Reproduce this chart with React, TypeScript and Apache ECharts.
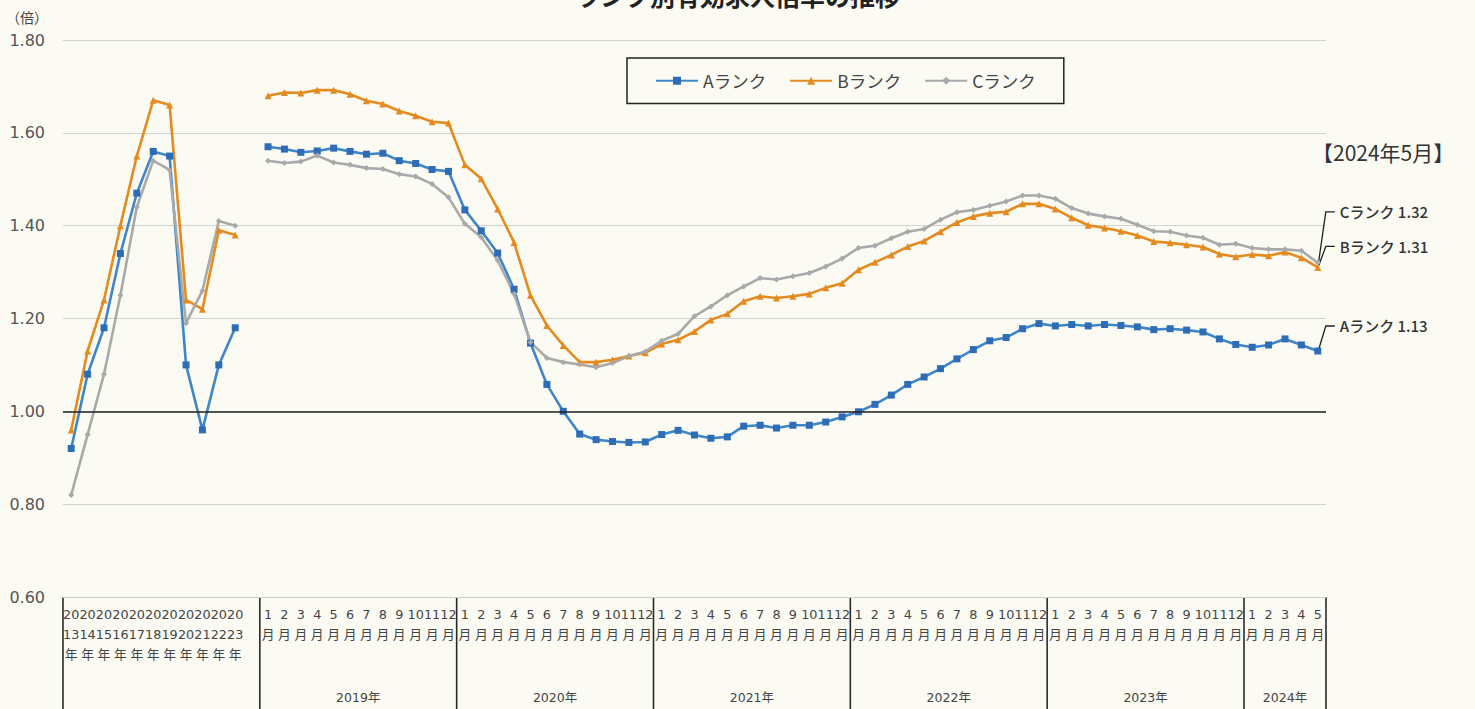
import React, { useEffect, useRef } from "react";
import * as echarts from "echarts";

// ---------- data ----------
const annualYears = ["2013", "2014", "2015", "2016", "2017", "2018", "2019", "2020", "2021", "2022", "2023"];
const yearGroups = ["2019年", "2020年", "2021年", "2022年", "2023年", "2024年"];
const monthsPerGroup = [12, 12, 12, 12, 12, 5];

const aAnnual = [0.92, 1.08, 1.18, 1.34, 1.47, 1.56, 1.55, 1.10, 0.96, 1.10, 1.18];
const bAnnual = [0.96, 1.13, 1.24, 1.40, 1.55, 1.67, 1.66, 1.24, 1.22, 1.39, 1.38];
const cAnnual = [0.82, 0.95, 1.08, 1.25, 1.44, 1.54, 1.52, 1.19, 1.26, 1.41, 1.40];

const aMonthly = [
  1.570, 1.565, 1.558, 1.561, 1.567, 1.560, 1.554, 1.556, 1.540, 1.534, 1.521, 1.517,
  1.434, 1.389, 1.341, 1.263, 1.147, 1.058, 1.000, 0.951, 0.939, 0.935, 0.933, 0.934,
  0.950, 0.959, 0.949, 0.942, 0.945, 0.968, 0.970, 0.964, 0.970, 0.970, 0.977, 0.988,
  0.999, 1.015, 1.035, 1.058, 1.074, 1.092, 1.113, 1.133, 1.152, 1.159, 1.178, 1.189,
  1.184, 1.187, 1.184, 1.187, 1.185, 1.182, 1.176, 1.178, 1.175, 1.171, 1.156, 1.144,
  1.138, 1.143, 1.156, 1.143, 1.13,
];
const bMonthly = [
  1.680, 1.687, 1.686, 1.692, 1.692, 1.683, 1.669, 1.662, 1.647, 1.637, 1.624, 1.621,
  1.531, 1.501, 1.436, 1.364, 1.250, 1.185, 1.142, 1.106, 1.106, 1.111, 1.119, 1.126,
  1.145, 1.154, 1.172, 1.197, 1.210, 1.237, 1.248, 1.244, 1.248, 1.253, 1.266, 1.276,
  1.305, 1.321, 1.337, 1.355, 1.367, 1.387, 1.407, 1.420, 1.427, 1.430, 1.447, 1.447,
  1.436, 1.417, 1.401, 1.395, 1.388, 1.379, 1.366, 1.363, 1.359, 1.354, 1.339, 1.333,
  1.338, 1.335, 1.343, 1.331, 1.31,
];
const cMonthly = [
  1.540, 1.535, 1.538, 1.551, 1.536, 1.531, 1.524, 1.522, 1.511, 1.506, 1.490, 1.461,
  1.404, 1.375, 1.325, 1.253, 1.149, 1.115, 1.106, 1.101, 1.095, 1.104, 1.119, 1.129,
  1.152, 1.167, 1.205, 1.226, 1.250, 1.269, 1.287, 1.284, 1.291, 1.298, 1.312, 1.329,
  1.352, 1.357, 1.373, 1.387, 1.393, 1.413, 1.429, 1.434, 1.443, 1.452, 1.465, 1.465,
  1.458, 1.438, 1.426, 1.420, 1.415, 1.402, 1.388, 1.387, 1.379, 1.374, 1.359, 1.361,
  1.352, 1.349, 1.349, 1.346, 1.32,
];

const endLabels = ["Aランク 1.13", "Bランク 1.31", "Cランク 1.32"];
const yTicks = [0.6, 0.8, 1.0, 1.2, 1.4, 1.6, 1.8];

// ---------- categories ----------
const categories: string[] = [];
annualYears.forEach((y) => categories.push(y + "年"));
categories.push("");
yearGroups.forEach((g, gi) => {
  for (let m = 1; m <= monthsPerGroup[gi]; m++) categories.push(g + m + "月");
});

const BLUE = "#3F85C9";
const BLUE_DARK = "#2E6DB5";
const ORANGE = "#E58A1F";
const GRAY = "#A9A9A9";
const CJK = "'Noto Sans CJK JP', sans-serif";
const LATIN = "'DejaVu Sans', 'Noto Sans CJK JP', sans-serif";

function labelFor(cat: string): string {
  if (!cat) return "";
  const ann = cat.match(/^(\d\d)(\d\d)年$/);
  if (ann) return ann[1] + "\n" + ann[2] + "\n年";
  const mon = cat.match(/年(\d+)月$/);
  if (mon) return mon[1] + "\n月";
  return "";
}

export default function App() {
  const ref = useRef<HTMLDivElement>(null);
  useEffect(() => {
    if (!ref.current) return;
    const chart = echarts.init(ref.current, null, { renderer: "svg" });
    const mk = (annual: number[], monthly: number[]) => [...annual, null, ...monthly];
    const option: any = {
      animation: false,
      backgroundColor: "#FBFBF4",
      grid: { left: 63, right: 149, top: 40, bottom: 112, containLabel: false },
      legend: {
        left: 627,
        top: 58,
        padding: [14, 28, 14, 28],
        itemGap: 23,
        itemWidth: 42,
        itemHeight: 10,
        borderColor: "#222",
        borderWidth: 1.5,
        backgroundColor: "#FBFBF4",
        textStyle: { fontSize: 17.5, color: "#444", fontFamily: CJK },
        data: ["Aランク", "Bランク", "Cランク"],
      },
      xAxis: {
        type: "category",
        data: categories,
        boundaryGap: true,
        axisLine: { show: true, lineStyle: { color: "#CFCFCF", width: 1 } },
        axisTick: { show: false },
        axisLabel: {
          interval: 0,
          margin: 7,
          fontSize: 12.8,
          lineHeight: 20,
          color: "#444",
          fontFamily: LATIN,
          formatter: (v: string) => labelFor(v),
        },
        splitLine: { show: false },
      },
      yAxis: {
        type: "value",
        min: 0.6,
        max: 1.8,
        interval: 0.2,
        axisLine: { show: false },
        axisTick: { show: false },
        axisLabel: {
          margin: 18,
          fontSize: 16,
          color: "#555",
          fontFamily: LATIN,
          formatter: (v: number) => v.toFixed(2),
        },
        splitLine: { show: true, lineStyle: { color: "#D2D2D0", width: 1 } },
      },
      series: [
        {
          name: "Aランク",
          type: "line",
          data: mk(aAnnual, aMonthly),
          connectNulls: false,
          symbol: "rect",
          symbolSize: 7,
          lineStyle: { color: BLUE, width: 2.6 },
          itemStyle: { color: BLUE_DARK },
          markLine: {
            silent: true,
            symbol: "none",
            label: { show: false },
            lineStyle: { color: "#222", width: 1.6, type: "solid" },
            data: [{ yAxis: 1.0 }],
          },
        },
        {
          name: "Bランク",
          type: "line",
          data: mk(bAnnual, bMonthly),
          connectNulls: false,
          symbol: "triangle",
          symbolSize: 7,
          lineStyle: { color: ORANGE, width: 2.6 },
          itemStyle: { color: ORANGE },
        },
        {
          name: "Cランク",
          type: "line",
          data: mk(cAnnual, cMonthly),
          connectNulls: false,
          symbol: "diamond",
          symbolSize: 6,
          lineStyle: { color: GRAY, width: 2.6 },
          itemStyle: { color: GRAY },
        },
      ],
    };
    chart.setOption(option);

    // ----- graphics computed from the axes -----
    const xAt = (i: number) => chart.convertToPixel({ xAxisIndex: 0 }, i) as number;
    const yAt = (v: number) => chart.convertToPixel({ yAxisIndex: 0 }, v) as number;
    const band = xAt(1) - xAt(0);
    const yBottom = yAt(yTicks[0]);
    const graphics: any[] = [];

    // title (cut off at the top edge, as in the reference)
    graphics.push({
      type: "text",
      left: "center",
      top: -18,
      style: {
        text: "ランク別有効求人倍率の推移",
        font: "bold 25px 'Noto Sans CJK JP'",
        fill: "#222",
      },
    });
    graphics.push({
      type: "text",
      x: 6,
      y: 17,
      style: { text: "（倍）", font: "14px 'Noto Sans CJK JP'", fill: "#444", textVerticalAlign: "middle" },
    });
    graphics.push({
      type: "text",
      x: 1312,
      y: 152,
      style: { text: "【2024年5月】", font: "21px 'Noto Sans CJK JP'", fill: "#333", textVerticalAlign: "middle" },
    });

    // group dividers and year labels
    const boundaries: number[] = [0, annualYears.length + 1];
    let idx = annualYears.length + 1;
    monthsPerGroup.forEach((n) => {
      idx += n;
      boundaries.push(idx);
    });
    boundaries.forEach((b) => {
      const x = b < categories.length ? xAt(b) - band / 2 : xAt(b - 1) + band / 2;
      graphics.push({
        type: "line",
        shape: { x1: x, y1: yBottom, x2: x, y2: 709 },
        style: { stroke: "#2A2A2A", lineWidth: 1.6 },
      });
    });
    let start = annualYears.length + 1;
    yearGroups.forEach((g, gi) => {
      const end = start + monthsPerGroup[gi] - 1;
      const cx = (xAt(start) + xAt(end)) / 2;
      graphics.push({
        type: "text",
        x: cx,
        y: 697,
        style: {
          text: g,
          font: "12.5px 'DejaVu Sans', 'Noto Sans CJK JP'",
          fill: "#444",
          textAlign: "center",
          textVerticalAlign: "middle",
        },
      });
      start = end + 1;
    });

    // end labels with leader lines
    const last = categories.length - 1;
    const ends = [
      { v: aMonthly[aMonthly.length - 1], dy: -25, text: endLabels[0] },
      { v: bMonthly[bMonthly.length - 1], dy: -21, text: endLabels[1] },
      { v: cMonthly[cMonthly.length - 1], dy: -51, text: endLabels[2] },
    ];
    const ex = xAt(last);
    ends.forEach((e) => {
      const ey = yAt(e.v);
      const ly = ey + e.dy;
      graphics.push({
        type: "polyline",
        shape: { points: [[ex + 1, ey - 2], [ex + 8, ly], [ex + 17, ly]] },
        style: { stroke: "#222", lineWidth: 1.3, fill: null },
      });
      graphics.push({
        type: "text",
        x: ex + 22,
        y: ly,
        style: {
          text: e.text,
          font: "500 15px 'Noto Sans CJK JP'",
          fill: "#333",
          textVerticalAlign: "middle",
        },
      });
    });

    chart.setOption({ graphic: graphics });
    return () => chart.dispose();
  }, []);

  return (
    <div
      ref={ref}
      style={{ position: "fixed", left: 0, top: 0, width: 1475, height: 709, background: "#FBFBF4" }}
    />
  );
}
